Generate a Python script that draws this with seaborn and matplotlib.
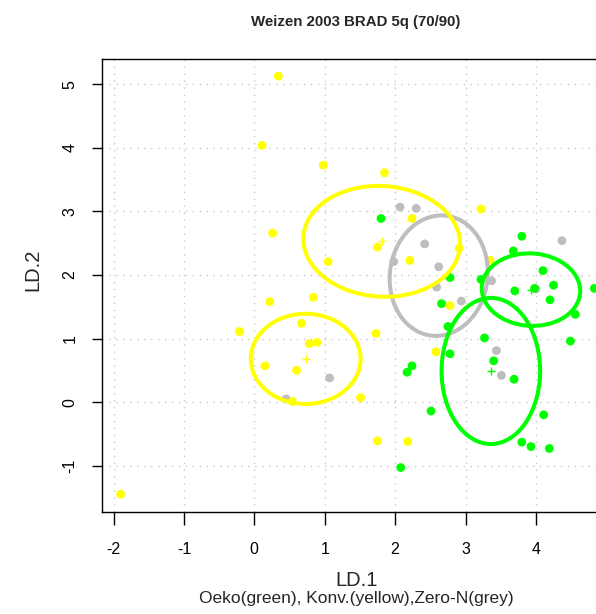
import seaborn as sns
import matplotlib.pyplot as plt
import pandas as pd
from matplotlib.patches import Ellipse

# LD scores
oeko_x = [1.80, 3.80, 3.68, 4.10, 2.78, 3.22, 3.70, 3.98, 4.25, 4.20, 4.83, 2.66, 4.56, 2.75,
          3.27, 4.49, 2.78, 3.40, 3.69, 2.24, 2.17, 2.51, 4.11, 3.80, 3.93, 4.19, 2.08]
oeko_y = [2.89, 2.61, 2.38, 2.07, 1.96, 1.93, 1.75, 1.79, 1.84, 1.61, 1.79, 1.55, 1.38, 1.19,
          1.01, 0.96, 0.76, 0.65, 0.36, 0.57, 0.47, -0.14, -0.20, -0.63, -0.70, -0.73, -1.03]

konv_x = [0.34, 0.11, 0.98, 0.26, 1.05, 0.84, 0.22, -0.21, 0.67, 0.78, 0.89, 0.15, 0.60, 0.54,
          1.73, 1.51, 1.75, -1.90, 2.18, 2.24, 3.22, 1.75, 2.21, 2.91, 3.35, 2.78, 2.58, 1.85]
konv_y = [5.13, 4.04, 3.73, 2.66, 2.21, 1.65, 1.58, 1.11, 1.24, 0.92, 0.94, 0.57, 0.50, 0.01,
          1.08, 0.07, -0.61, -1.45, -0.62, 2.89, 3.04, 2.44, 2.23, 2.42, 2.23, 1.52, 0.79, 3.61]

zero_x = [2.07, 2.30, 2.42, 1.98, 2.62, 2.59, 2.94, 3.37, 4.37, 4.00, 3.44, 3.51, 1.07, 0.45]
zero_y = [3.07, 3.05, 2.49, 2.21, 2.13, 1.81, 1.59, 1.91, 2.54, 1.78, 0.81, 0.42, 0.38, 0.05]

# group ellipses: centre, full width, full height, angle
ell_group = ["Zero-N", "Oeko", "Oeko", "Konv.", "Konv."]
ell_cx = [2.62, 3.93, 3.36, 1.81, 0.73]
ell_cy = [1.99, 1.77, 0.49, 2.53, 0.68]
ell_w = [1.39, 1.40, 1.40, 2.23, 1.56]
ell_h = [1.90, 1.14, 2.30, 1.74, 1.42]
ell_ang = [-5, -5, 0, -5, 0]
show_centre = [False, True, True, True, True]

x_ticks = [-2, -1, 0, 1, 2, 3, 4]
y_ticks = [-1, 0, 1, 2, 3, 4, 5]

colors = {"Oeko": "#00ff00", "Konv.": "#ffff00", "Zero-N": "#bebebe"}

df = pd.concat([
    pd.DataFrame({"LD1": zero_x, "LD2": zero_y, "group": "Zero-N"}),
    pd.DataFrame({"LD1": oeko_x, "LD2": oeko_y, "group": "Oeko"}),
    pd.DataFrame({"LD1": konv_x, "LD2": konv_y, "group": "Konv."}),
], ignore_index=True)

sns.set_style("white")
plt.rcParams["font.family"] = ["Liberation Sans", "DejaVu Sans"]
plt.rcParams["axes.unicode_minus"] = False

fig = plt.figure(figsize=(5.96, 6.14), dpi=100)
ax = fig.add_axes([0.1706, 0.1661, 0.8546, 0.7378])

sns.scatterplot(data=df, x="LD1", y="LD2", hue="group", palette=colors,
                s=40, linewidth=0, legend=False, ax=ax, zorder=3)

for g, cx, cy, w, h, a, c in zip(ell_group, ell_cx, ell_cy, ell_w, ell_h, ell_ang, show_centre):
    ax.add_patch(Ellipse((cx, cy), w, h, angle=a, fill=False,
                         edgecolor=colors[g], lw=2.9, zorder=4))
    if c:
        ax.plot(cx, cy, marker="+", color=colors[g], ms=6, mew=1, zorder=5)

ax.set_xlim(-2.168, 5.067)
ax.set_ylim(-1.73, 5.40)
ax.set_xticks(x_ticks)
ax.set_yticks(y_ticks)
# grid lines continue at x = 5 (off the picture anyway)
ax.grid(True, color="#c8c8c8", linestyle=(0, (1, 4)), lw=1)
ax.set_axisbelow(True)

for s in ax.spines.values():
    s.set_color("black")
    s.set_linewidth(1)

ax.tick_params(axis="x", direction="out", length=9.5, width=1, pad=12,
               labelsize=11.5, bottom=True, colors="black")
ax.tick_params(axis="y", direction="out", length=7.5, width=1, pad=10,
               labelsize=11.5, left=True, labelrotation=90, colors="black")
for lab in ax.get_yticklabels():
    lab.set_va("center")
ax.set_xlabel("")
ax.set_ylabel("")

fig.text(0.5975, 1 - 22 / 614, "Weizen 2003 BRAD 5q (70/90)", ha="center", va="center",
         fontsize=10.8, fontweight="bold")
fig.text(0.5975, 1 - 581 / 614, "LD.1", ha="center", va="center", fontsize=14.5)
fig.text(0.5975, 1 - 598 / 614, "Oeko(green), Konv.(yellow),Zero-N(grey)",
         ha="center", va="center", fontsize=12.5)
fig.text(33 / 596, 1 - 270 / 614, "LD.2", ha="center", va="center",
         rotation=90, fontsize=14.5)

fig.savefig("out.png", dpi=100)
